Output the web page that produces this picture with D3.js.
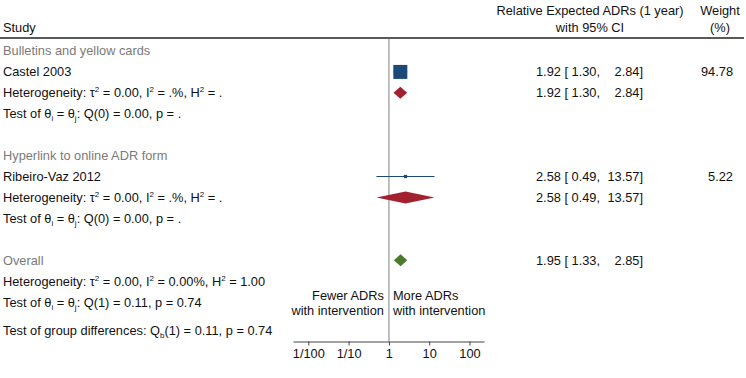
<!DOCTYPE html>
<html>
<head>
<meta charset="utf-8">
<script src="https://cdn.jsdelivr.net/npm/d3@7"></script>
<style>
  body { margin: 0; background: #fff; }
  text { font-family: "Liberation Sans", Arial, sans-serif; font-size: 12.8px; fill: #111; }
</style>
</head>
<body>
<svg width="746" height="378"></svg>
<script>
// values
const groups = ['Bulletins and yellow cards', 'Hyperlink to online ADR form'];
const studies = ['Castel 2003', 'Ribeiro-Vaz 2012'];
const studyEst = [1.92, 2.58];
const studyLo = [1.30, 0.49];
const studyHi = [2.84, 13.57];
const weights = [94.78, 5.22];
const groupEst = [1.92, 2.58];
const groupLo = [1.30, 0.49];
const groupHi = [2.84, 13.57];
const overallEst = [1.95];
const overallLo = [1.33];
const overallHi = [2.85];
const xTicks = [0.01, 0.1, 1, 10, 100];
const xTickLabels = ['1/100', '1/10', '1', '10', '100'];
const groupHet = ['0.00', '.%', '.'];
const overallHet = ['0.00', '0.00%', '1.00'];
const groupQ = ['Q(0) = 0.00, p = .', 'Q(0) = 0.00, p = .'];
const overallQ = 'Q(1) = 0.11, p = 0.74';
const groupDiff = '(1) = 0.11, p = 0.74';

const svg = d3.select('svg');
const width = +svg.attr('width');

const navy = '#1b4a78';
const maroon = '#a3202f';
const green = '#4c7a2c';

const xScale = d3.scaleLog()
    .domain([Math.pow(10, -2.38), Math.pow(10, 2.36)])
    .range([293, 484]);

const yRow = d3.scaleLinear().domain([0, 12]).range([51, 302]);

const sizeScale = d3.scaleSqrt().domain([0, d3.max(weights)]).range([0, 14]);

const fmt = d3.format('.2f');

// rich text: array of [text, 'sup'|'sub'|undefined]
const rich = (sel, x, y, parts, color) => {
    const t = sel.append('text')
        .attr('x', x)
        .attr('y', y + 4.5);
    if (color) t.style('fill', color);
    let shift = 0;
    parts.forEach(([s, kind]) => {
        const target = kind === 'sup' ? -5 : kind === 'sub' ? 3 : 0;
        t.append('tspan')
            .attr('dy', target - shift)
            .style('font-size', kind ? '8px' : null)
            .text(s);
        shift = target;
    });
    return t;
};

const hetParts = v => [
    ['Heterogeneity: τ'], ['2', 'sup'], [' = ' + v[0] + ', I'], ['2', 'sup'],
    [' = ' + v[1] + ', H'], ['2', 'sup'], [' = ' + v[2]]
];
const testParts = q => [['Test of θ'], ['i', 'sub'], [' = θ'], ['j', 'sub'], [': ' + q]];

// header
svg.append('text').attr('x', 3).attr('y', 28).attr('dy', '0.35em').text('Study');
svg.append('text').attr('x', 590).attr('y', 11).attr('dy', '0.35em')
    .attr('text-anchor', 'middle').text('Relative Expected ADRs (1 year)');
svg.append('text').attr('x', 590).attr('y', 28).attr('dy', '0.35em')
    .attr('text-anchor', 'middle').text('with 95% CI');
svg.append('text').attr('x', 720).attr('y', 11).attr('dy', '0.35em')
    .attr('text-anchor', 'middle').text('Weight');
svg.append('text').attr('x', 720).attr('y', 28).attr('dy', '0.35em')
    .attr('text-anchor', 'middle').text('(%)');

svg.append('line')
    .attr('x1', 0).attr('x2', width - 2)
    .attr('y1', 38).attr('y2', 38)
    .attr('stroke', '#222').attr('stroke-width', 1.5);

// reference line at 1
svg.append('line')
    .attr('x1', xScale(1)).attr('x2', xScale(1))
    .attr('y1', 39).attr('y2', 341)
    .attr('stroke', '#aaa').attr('stroke-width', 1.5);

const ciText = (y, est, lo, hi) => {
    svg.append('text').attr('x', 536).attr('y', y).attr('dy', '0.35em')
        .text(`${fmt(est)} [ ${fmt(lo)},`);
    svg.append('text').attr('x', 643).attr('y', y).attr('dy', '0.35em')
        .attr('text-anchor', 'end').text(`${fmt(hi)}]`);
};

const diamond = (y, est, lo, hi, color) => {
    const h = 6;
    svg.append('path')
        .attr('d', `M${xScale(lo)},${y} L${xScale(est)},${y - h} L${xScale(hi)},${y} L${xScale(est)},${y + h} Z`)
        .attr('fill', color);
};

groups.forEach((g, i) => {
    const base = i * 5;
    const gray = '#7a7a7a';
    svg.append('text').attr('x', 3).attr('y', yRow(base)).attr('dy', '0.35em')
        .style('fill', gray).text(g);

    // study row
    const ys = yRow(base + 1);
    svg.append('text').attr('x', 3).attr('y', ys).attr('dy', '0.35em').text(studies[i]);
    svg.append('line')
        .attr('x1', xScale(studyLo[i])).attr('x2', xScale(studyHi[i]))
        .attr('y1', ys).attr('y2', ys)
        .attr('stroke', navy).attr('stroke-width', 1.2);
    const s = sizeScale(weights[i]);
    svg.append('rect')
        .attr('x', xScale(studyEst[i]) - s / 2)
        .attr('y', ys - s / 2)
        .attr('width', s).attr('height', s)
        .attr('fill', navy);
    ciText(ys, studyEst[i], studyLo[i], studyHi[i]);
    svg.append('text').attr('x', 733).attr('y', ys).attr('dy', '0.35em')
        .attr('text-anchor', 'end').text(fmt(weights[i]));

    // subgroup summary
    const yh = yRow(base + 2);
    rich(svg, 3, yh, hetParts(groupHet));
    diamond(yh, groupEst[i], groupLo[i], groupHi[i], maroon);
    ciText(yh, groupEst[i], groupLo[i], groupHi[i]);

    rich(svg, 3, yRow(base + 3), testParts(groupQ[i]));
});

// overall
const yo = yRow(10);
svg.append('text').attr('x', 3).attr('y', yo).attr('dy', '0.35em')
    .style('fill', '#7a7a7a').text('Overall');
diamond(yo, overallEst[0], overallLo[0], overallHi[0], green);
ciText(yo, overallEst[0], overallLo[0], overallHi[0]);
rich(svg, 3, yRow(11), hetParts(overallHet));
rich(svg, 3, yRow(12), testParts(overallQ));
rich(svg, 3, 330, [['Test of group differences: Q'], ['b', 'sub'], [groupDiff]]);

// direction labels
svg.append('text').attr('x', xScale(1) - 5).attr('y', 296).attr('dy', '0.35em')
    .attr('text-anchor', 'end').text('Fewer ADRs');
svg.append('text').attr('x', xScale(1) - 5).attr('y', 310.5).attr('dy', '0.35em')
    .attr('text-anchor', 'end').text('with intervention');
svg.append('text').attr('x', xScale(1) + 4).attr('y', 296).attr('dy', '0.35em')
    .text('More ADRs');
svg.append('text').attr('x', xScale(1) + 4).attr('y', 310.5).attr('dy', '0.35em')
    .text('with intervention');

// x axis
const xAxis = d3.axisBottom(xScale)
    .tickValues(xTicks)
    .tickFormat((d, i) => xTickLabels[i])
    .tickSize(4)
    .tickSizeOuter(0)
    .tickPadding(3);

const xAxisG = svg.append('g')
    .attr('transform', 'translate(0, 341.5)')
    .call(xAxis);

xAxisG.selectAll('text')
    .style('font-size', '12.8px')
    .style('font-family', '"Liberation Sans", Arial, sans-serif')
    .style('fill', '#111');
xAxisG.selectAll('line, .domain').attr('stroke', '#444');
</script>
</body>
</html>
